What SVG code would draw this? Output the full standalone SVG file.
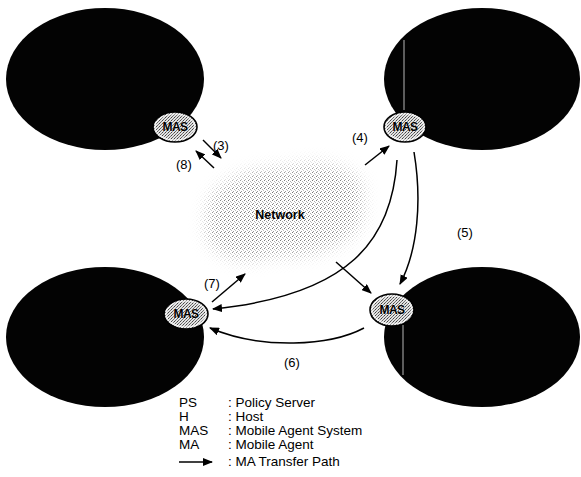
<svg xmlns="http://www.w3.org/2000/svg" width="581" height="477" viewBox="0 0 581 477">
<defs>
<style>
.host{fill:#030303;}
.mas{fill:url(#stip);stroke:#000;stroke-width:1.6;}
.masring{fill:none;stroke:#fff;stroke-width:1.2;opacity:0.8;}
.mastxt{font-family:"Liberation Sans",Arial,sans-serif;font-weight:bold;font-size:12px;fill:#000;text-anchor:middle;letter-spacing:-0.5px;stroke:#fff;stroke-width:0.5px;paint-order:stroke;}
.lbl{font-family:"Liberation Sans",Arial,sans-serif;font-size:13px;fill:#000;}
.leg{font-family:"Liberation Sans",Arial,sans-serif;font-size:13.5px;fill:#000;}
.conn{fill:none;stroke:#000;stroke-width:1.5;marker-end:url(#ah);}
.streak{stroke:#9a9a9a;stroke-width:1.5;opacity:0.8;}
</style>
<pattern id="stip" width="3" height="3" patternUnits="userSpaceOnUse">
<rect width="3" height="3" fill="#e2e2e2"/>
<rect x="0" y="0" width="1" height="1" fill="#444"/>
<rect x="2" y="1" width="1" height="1" fill="#777"/>
<rect x="1" y="2" width="1" height="1" fill="#666"/>
</pattern>
<pattern id="cloudstip" width="4" height="4" patternUnits="userSpaceOnUse">
<rect width="4" height="4" fill="#fff"/>
<rect x="0" y="0" width="1" height="1" fill="#777"/>
<rect x="2" y="1" width="1" height="1" fill="#aaa"/>
<rect x="1" y="3" width="1" height="1" fill="#999"/>
<rect x="3" y="2" width="1" height="1" fill="#bbb"/>
</pattern>
<filter id="blur" x="-30%" y="-30%" width="160%" height="160%">
<feGaussianBlur stdDeviation="8"/>
</filter>
<mask id="cloudmask">
<g fill="#fff" filter="url(#blur)">
<ellipse cx="285" cy="212" rx="78" ry="44"/>
<ellipse cx="248" cy="230" rx="42" ry="30"/>
<ellipse cx="315" cy="192" rx="48" ry="28"/>
</g>
</mask>
<marker id="ah" viewBox="0 0 10 8" refX="9" refY="4" markerWidth="10" markerHeight="8" markerUnits="userSpaceOnUse" orient="auto">
<path d="M0,0 L10,4 L0,8 Z" fill="#000"/>
</marker>
</defs>
<rect width="581" height="477" fill="#fff"/>

<g id="network">
<rect x="185" y="140" width="205" height="140" fill="url(#cloudstip)" mask="url(#cloudmask)"/>
<text x="280" y="219" text-anchor="middle" font-family="'Liberation Sans',Arial,sans-serif" font-weight="bold" font-size="12.5" fill="#000">Network</text>
</g>

<g id="host-tl">
<ellipse class="host" cx="105" cy="79" rx="99" ry="71"/>
</g>
<g id="host-tr">
<ellipse class="host" cx="482" cy="79" rx="98" ry="71"/>
<line class="streak" x1="404" y1="40" x2="404" y2="110"/>
</g>
<g id="host-bl">
<ellipse class="host" cx="105" cy="337" rx="99" ry="70"/>
</g>
<g id="host-br">
<ellipse class="host" cx="482" cy="337" rx="98" ry="70"/>
<line class="streak" x1="403" y1="325" x2="403" y2="375"/>
</g>

<g id="mas-tl">
<ellipse class="mas" cx="175" cy="127" rx="22" ry="15"/>
<ellipse class="masring" cx="175" cy="127" rx="20" ry="13"/>
<text class="mastxt" x="175" y="131">MAS</text>
</g>
<g id="mas-tr">
<ellipse class="mas" cx="405" cy="127" rx="21" ry="15"/>
<ellipse class="masring" cx="405" cy="127" rx="19" ry="13"/>
<text class="mastxt" x="405" y="131">MAS</text>
</g>
<g id="mas-bl">
<ellipse class="mas" cx="186" cy="314" rx="22" ry="15"/>
<ellipse class="masring" cx="186" cy="314" rx="20" ry="13"/>
<text class="mastxt" x="186" y="318">MAS</text>
</g>
<g id="mas-br">
<ellipse class="mas" cx="392" cy="310" rx="22" ry="16"/>
<ellipse class="masring" cx="392" cy="310" rx="20" ry="14"/>
<text class="mastxt" x="392" y="314">MAS</text>
</g>

<g id="connectors">
<path class="conn" d="M203,140 L221,158"/>
<path class="conn" d="M214,168 L196,151"/>
<path class="conn" d="M365,165 L389,146"/>
<path class="conn" d="M397,160 C392,240 350,295 213,309"/>
<path class="conn" d="M414,152 C422,200 418,250 400,284"/>
<path class="conn" d="M336,262 L371,293"/>
<path class="conn" d="M212,302 L245,274"/>
<path class="conn" d="M364,328 C330,346 262,350 210,328"/>
</g>

<g id="labels">
<text class="lbl" x="213" y="150">(3)</text>
<text class="lbl" x="176" y="169">(8)</text>
<text class="lbl" x="352" y="142">(4)</text>
<text class="lbl" x="457" y="237">(5)</text>
<text class="lbl" x="204" y="288">(7)</text>
<text class="lbl" x="284" y="367">(6)</text>
</g>

<g id="legend">
<text class="leg" x="179" y="407">PS</text>
<text class="leg" x="228" y="407">: Policy Server</text>
<text class="leg" x="179" y="421">H</text>
<text class="leg" x="228" y="421">: Host</text>
<text class="leg" x="179" y="435">MAS</text>
<text class="leg" x="228" y="435">: Mobile Agent System</text>
<text class="leg" x="179" y="449">MA</text>
<text class="leg" x="228" y="449">: Mobile Agent</text>
<path class="conn" d="M179,462 L212,462"/>
<text class="leg" x="228" y="466">: MA Transfer Path</text>
</g>
</svg>
